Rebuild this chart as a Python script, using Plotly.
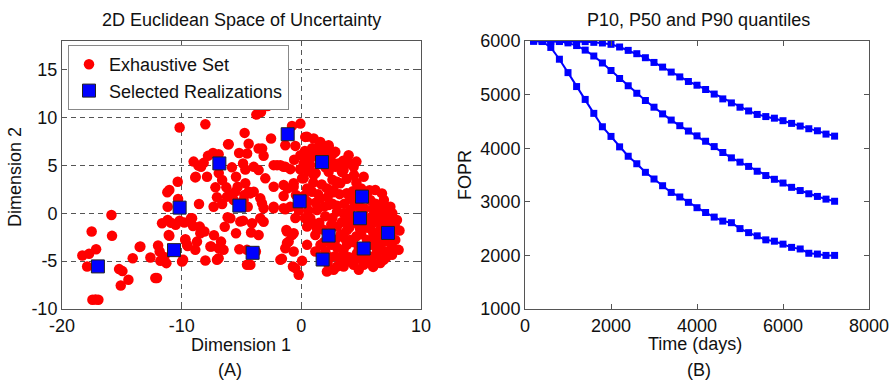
import plotly.graph_objects as go

# ---------------- data: panel A (2D Euclidean space) ----------------
exhaustive_x = [
    -15.87, -17.52, -15.82, -18.30, -17.74, -17.15, -17.90, -15.23, -14.95, -15.09, -14.45, -13.51, -14.09,
    -12.61, -11.97, -11.78, -11.28, -12.06, -11.64, -11.17, -11.17, -17.46, -16.96, -17.20,
    -10.17, -8.02, -4.74, -6.12, -7.38, -6.91, -8.16, -8.38, -8.86, -10.33, -11.03, -4.87, -4.68, -5.46,
    -6.62, -7.88, -7.18, -6.27, -5.32, -5.93, -4.76, -7.05, -8.55, -5.66, -4.48, -4.53,
    -6.62, -6.16, -10.89, -10.17, -9.13, -9.05, -8.49, -8.10, -11.08, -9.69, -9.50, -8.72, -8.86, -7.52,
    -6.71, -6.50, -5.46, -5.18, -9.88, -8.02, -7.05, -4.87,
    -2.82, -3.37, -3.76, -2.53, -0.08, -0.78, -1.34, -0.50, 0.33, 1.03, 1.59, 2.28, 2.84, -0.08, 0.48, 0.75,
    -4.40, -3.28, -3.15, -3.98, -3.57, -2.03, -1.48, -0.92, -3.01, -2.31, -4.68, -3.98, -1.48, -0.64, 0.19,
    1.03, 2.28, 2.84, 2.98, 2.14, 0.48,
    -4.26, -3.43, -2.31, -1.48, 0.89, 1.59, 2.28, 2.98, 1.31, 0.75, 0.48, 1.17, -3.43, -3.15, -4.12, -3.57,
    -1.19, -0.78, -1.06, -1.34, -0.64, 0.06, -0.50, -0.22, -1.75, -4.54, -4.26, 2.14, 2.98, 0.48, 1.17,
    2.65, 3.95, 4.37, 3.53, 5.21, 6.18, 6.74, 2.70, 3.26, 4.09, 5.76, 6.88, 7.44, 7.99, 7.71, 7.85, 8.13,
    7.58, 6.88, 6.04, 5.21, 4.37, 3.53, 2.70, 2.84, 2.98, 3.53, 4.09, 4.79, 6.32, 5.76, 6.59, 6.32, 4.09,
    5.49, 3.53, 4.65, 6.32, 6.88, 7.16, 7.44, 5.76, 3.82,
    4.5, 5.5, 6.0, 6.8, 5.0, 4.3, 5.8, 6.8, 7.3, 4.0, 5.0, 6.3, 3.2, 3.0, 3.3, 3.9, 4.6, 5.3, 6.2, 7.0, 7.8,
    2.5, 3.6, 4.3, 5.0, 5.7, 3.8, 3.1, 1.8, 2.3, 4.6, 6.0, 4.8, 1.9, 1.5, 2.0, 2.2, 1.7, 1.2, 2.6, 3.4,
    1.3, 1.6, 2.0, 7.6, 8.2, 6.5, 5.2, 4.8, 6.0, 3.6, 2.4, 2.2, 3.9, 7.0, 6.6, 5.4, 4.6, 3.2, 2.6, 4.2,
    6.9, 2.5, 1.9, 3.0, 0.6, 1.5, 1.0, 2.0, 4.0, 0.2,
    -1.14, -1.48, -0.64, 0.06, -0.92, -1.34, -0.45, -2.31, -1.75, -1.34, -1.62, -0.70, -1.25, -0.64, -1.20,
    0.47, 2.28, -6.07, -3.57, -8.83, -9.78, -9.22, -8.44, -9.70, -9.55, -9.97, -11.03, -11.84, -11.45,
    -12.20, -13.45, -6.91, -6.91, -7.60, -4.54, -7.33, -6.21, -5.52, -4.82, -4.40, -3.29, -3.15, -2.31,
    -5.93, -5.10, -8.60, -9.00, -7.80, -6.90, -5.80, -5.20, -0.20, 0.30, -0.50, 0.20, -0.10, 0.80, -0.60,
    -10.50, -11.20, -10.30, -7.30, -6.40, -4.20, -3.80,
    0.9, 1.4, 0.3, 2.6, 1.0, 1.4, 0.5, 0.9, 1.8, 2.6, 3.4, 4.0, 4.9, 5.9, 6.6, 7.4, 6.3, 5.2, 4.4, 3.6,
    2.8, 6.6, 7.6, 7.1, 5.5, 3.3, 5.4, 4.6, 3.8, 6.1, 6.0, 7.0, 4.4, 3.8, 5.0, 3.5, 4.4, 2.0, 2.7, 1.2, 0.6,
]
exhaustive_y = [
    -0.18, -1.91, -2.36, -4.41, -4.24, -3.75, -5.56, -5.83, -6.04, -7.54, -6.95, -3.51, -4.69,
    -4.62, -3.37, -4.97, -5.21, -6.77, -1.04, -0.70, 0.69, -9.03, -9.03, -9.00,
    8.96, 9.30, 8.40, 7.22, 6.31, 6.18, 5.27, 4.85, 3.75, 3.29, 2.43, 5.21, 4.58, 3.81,
    3.47, 3.81, 2.71, 2.71, 2.77, 1.91, 1.91, 1.67, 0.97, 1.39, 0.69, 6.24,
    0.97, -0.42, -0.98, -0.77, -0.52, -1.32, -1.39, -1.91, -2.26, -2.71, -3.41, -2.96, -3.82, -3.48,
    -2.96, -3.82, -2.08, -3.75, -4.86, -4.94, -4.86, -0.77,
    11.21, 10.58, 10.31, 7.81, 9.37, 9.13, 7.11, 7.04, 7.98, 7.81, 7.46, 7.11, 6.42, 6.07, 5.55, 5.03,
    7.26, 6.77, 6.00, 4.85, 4.51, 5.03, 4.85, 4.61, 3.65, 2.77, 3.13, 2.25, 2.95, 3.13, 3.65,
    3.99, 4.33, 4.85, 3.29, 2.60, 2.60,
    2.08, 1.56, 0.69, 0.52, 2.25, 1.56, 0.86, 0.17, 0.34, -0.52, -1.39, -2.26, -0.52, -0.88, -1.04, -2.26,
    -1.91, -2.26, -2.96, -3.65, -4.00, -4.97, -5.73, -6.43, -4.86, -3.82, -5.38, -6.08, -5.56, -3.30, -4.00,
    6.25, 6.07, 4.85, 4.51, 3.81, 2.43, 2.08, 2.43, 3.13, 1.56, 1.39, 0.86, 0.69, -0.70, -1.74, -2.78, -3.82,
    -4.34, -4.86, -5.21, -5.38, -5.38, -5.56, -5.90, -2.78, -1.39, 0.00, 0.35, 0.69, 0.35, -0.70, -1.04, -2.43, -2.78,
    -2.78, -3.82, -4.17, -3.82, -2.08, -0.35, -3.13, -4.51, -1.74,
    -1.0, -1.5, -0.2, -0.8, -2.2, -3.0, -3.3, -3.0, -2.5, -4.6, -4.8, -4.3, -4.6, -3.6, -2.2, -0.8, 0.9, 0.5, 1.0, -1.5, -1.2,
    -3.3, 1.0, 2.3, 2.6, 2.4, 3.6, 5.2, 6.4, 5.9, 5.4, -5.6, -5.9, -3.0, -1.0, -0.3, 1.7, 3.0, 4.2, 3.5, 4.3,
    -1.6, -3.3, -4.0, 0.0, -1.8, 0.0, -0.3, -3.6, -2.0, -2.6, -4.6, -5.2, -5.0, -4.0, -5.2, 1.8, 3.2, 2.0, 1.0, -0.4,
    1.4, -1.2, 0.7, 0.8, 4.4, 5.8, 6.4, 7.0, 5.2, 5.2,
    2.60, 1.81, 2.78, 3.65, 0.69, 0.42, 1.91, 5.03, 5.03, 4.86, -4.76, -5.56, -1.74, -2.08, -3.10,
    7.99, 6.94, 7.22, 6.77, 3.82, -0.97, -0.52, -2.08, -2.78, -3.30, -5.03, -2.36, -4.00, -4.58,
    -6.77, -3.47, -4.69, -3.65, -3.47, -5.38, 0.69, 1.74, 2.26, 1.39, 2.26, 1.04, 0.52, 0.52,
    -0.52, -0.87, 5.00, 5.40, 6.00, 4.20, 4.80, 6.30, 0.30, -0.50, -0.50, 1.80, 4.60, 5.80, 5.60,
    -1.20, 2.20, 1.50, -2.30, -1.40, -2.00, -4.00,
    6.8, 6.9, 6.5, 5.3, 3.2, 2.0, 1.2, -1.0, -1.7, -0.5, -0.9, -1.5, -1.6, -1.1, -1.7, -1.0, -0.6, -4.2, -4.8, -4.4,
    -4.5, -3.5, -3.6, -4.6, -5.0, -5.2, -0.9, -2.4, -3.3, -2.8, 0.5, 0.1, 1.2, 2.1, 1.5, 5.5, 4.0, 4.8, 2.2, 1.1, 0.3,
]
selected_x = [-17.0, -10.64, -10.17, -6.85, -5.18, -4.07, -1.14, -0.14, 1.73, 1.78, 2.28, 5.07, 4.90, 5.21, 7.24]
selected_y = [-5.55, -3.85, 0.59, 5.21, 0.80, -4.13, 8.26, 1.25, 5.35, -4.83, -2.33, 1.74, -0.52, -3.68, -2.05]

# ---------------- data: panel B (quantiles) ----------------
time_days = [200 * (i + 1) for i in range(36)]
p90 = [6000, 6000, 6000, 6000, 6000, 6000, 5988, 5975, 5963, 5938, 5888, 5825, 5763, 5688, 5600, 5513,
       5420, 5330, 5245, 5175, 5095, 5010, 4920, 4845, 4765, 4695, 4630, 4590, 4560, 4513, 4463, 4413,
       4363, 4325, 4263, 4225]
p50 = [6000, 6000, 6000, 5990, 5965, 5915, 5830, 5720, 5590, 5450, 5300, 5165, 5025, 4890, 4765, 4640,
       4525, 4420, 4320, 4230, 4130, 4030, 3920, 3820, 3740, 3660, 3570, 3490, 3420, 3350, 3270, 3210,
       3150, 3100, 3050, 3010]
p10 = [6000, 5990, 5880, 5660, 5410, 5150, 4910, 4650, 4400, 4220, 4025, 3850, 3710, 3550, 3425, 3300,
       3175, 3090, 2990, 2890, 2800, 2715, 2640, 2610, 2500, 2425, 2365, 2290, 2265, 2210, 2150, 2120,
       2040, 2025, 2000, 2000]

left_xticks = [-20, -10, 0, 10]
left_yticks = [-10, -5, 0, 5, 10, 15]
right_xticks = [0, 2000, 4000, 6000, 8000]
right_yticks = [1000, 2000, 3000, 4000, 5000, 6000]

W, H = 896, 382
FONT = "Liberation Sans, Arial, Helvetica, sans-serif"
TXT = "#111111"
FS = 18

fig = go.Figure()
fig.add_trace(go.Scatter(x=exhaustive_x, y=exhaustive_y, mode="markers", name="Exhaustive Set",
                         marker=dict(color="#ff0000", size=10.5, line=dict(width=0)),
                         xaxis="x", yaxis="y"))
fig.add_trace(go.Scatter(x=selected_x, y=selected_y, mode="markers", name="Selected Realizations",
                         marker=dict(color="#0000ff", size=13, symbol="square",
                                     line=dict(color="#222222", width=1)),
                         xaxis="x", yaxis="y"))
for q in (p10, p50, p90):
    fig.add_trace(go.Scatter(x=time_days, y=q, mode="lines+markers", showlegend=False,
                             line=dict(color="#0000ff", width=2),
                             marker=dict(color="#0000ff", size=7, symbol="square"),
                             xaxis="x2", yaxis="y2"))

def px_x(p):
    return p / W

def px_y(p):
    return 1 - p / H

axis_common = dict(showline=True, linecolor="#555555", linewidth=1, mirror="ticks", ticks="inside",
                   ticklen=5, tickcolor="#555555", zeroline=False, automargin=False,
                   tickfont=dict(family=FONT, size=FS, color=TXT))

fig.update_layout(
    width=W, height=H, margin=dict(l=0, r=0, t=0, b=0, autoexpand=False),
    paper_bgcolor="white", plot_bgcolor="white",
    font=dict(family=FONT, size=FS, color=TXT),
    xaxis=dict(domain=[px_x(62), px_x(421)], range=[-20, 10], anchor="y",
               tickvals=left_xticks, ticktext=[str(v) for v in left_xticks],
               showgrid=True, gridcolor="#555555", gridwidth=1, griddash="5px,4px", **axis_common),
    yaxis=dict(domain=[px_y(309), px_y(41)], range=[-10, 18], anchor="x",
               tickvals=left_yticks, ticktext=[str(v) for v in left_yticks],
               showgrid=True, gridcolor="#555555", gridwidth=1, griddash="5px,4px", **axis_common),
    xaxis2=dict(domain=[px_x(525), px_x(869)], range=[0, 8000], anchor="y2",
                tickvals=right_xticks, ticktext=[str(v) for v in right_xticks], showgrid=False, **axis_common),
    yaxis2=dict(domain=[px_y(309), px_y(41)], range=[1000, 6000], anchor="x2",
                tickvals=right_yticks, ticktext=[str(v) for v in right_yticks], showgrid=False, **axis_common),
    legend=dict(x=px_x(68), y=px_y(45), xanchor="left", yanchor="top",
                bgcolor="white", bordercolor="#888888", borderwidth=1,
                font=dict(family=FONT, size=FS, color=TXT), tracegroupgap=0,
                itemsizing="trace"),
    showlegend=True,
)

annots = [
    ("2D Euclidean Space of Uncertainty", 241, 20, 0),
    ("P10, P50 and P90 quantiles", 698, 20, 0),
    ("Dimension 1", 241, 345, 0),
    ("(A)", 230, 370, 0),
    ("Time (days)", 695, 344, 0),
    ("(B)", 699, 370, 0),
    ("Dimension 2", 15, 177, -90),
    ("FOPR", 465, 175, -90),
]
for text, x, y, ang in annots:
    fig.add_annotation(text=text, x=px_x(x), y=px_y(y), xref="paper", yref="paper",
                       xanchor="center", yanchor="middle", showarrow=False, textangle=ang,
                       font=dict(family=FONT, size=FS, color=TXT))

fig.write_html("out.html")
